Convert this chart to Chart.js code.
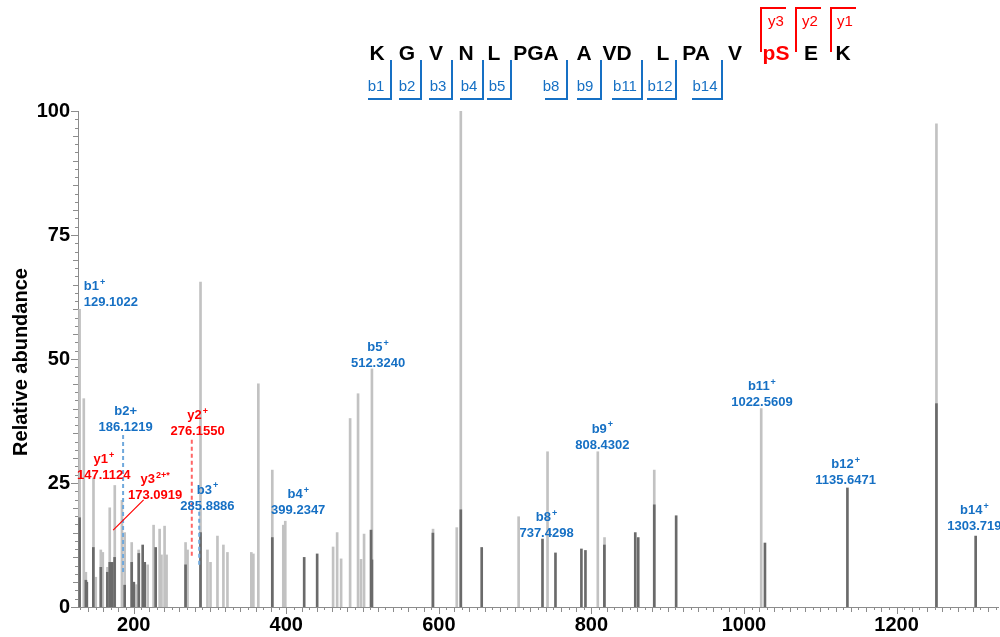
<!DOCTYPE html>
<html>
<head>
<meta charset="utf-8">
<script src="https://cdn.jsdelivr.net/npm/chart.js@4.4.0/dist/chart.umd.min.js"></script>
<style>
html, body { margin: 0; padding: 0; background: #fff; }
#wrap { width: 1000px; height: 637px; }
</style>
</head>
<body>
<div id="wrap"><canvas id="spectrum" width="1000" height="637"></canvas></div>
<script>
// light trace (m/z, relative abundance)
const lightMz = [129.1, 134.6, 137.3, 147.3, 150.3, 156.9, 159.5, 165.6, 168.6, 175.2, 184.6, 188.2, 197.4, 200.4, 203.9, 206.5,
    214.6, 218.3, 226.1, 234.0, 236.4, 240.5, 243.1, 268.0, 270.6, 287.6, 296.7, 300.7, 309.8, 317.6, 322.9, 354.2, 356.9,
    363.4, 381.7, 396.1, 398.7, 461.4, 466.7, 471.9, 483.7, 494.1, 498.0, 502.0, 512.3, 592.4, 623.5, 628.8, 704.6, 742.5,
    808.4, 817.2, 882.4, 1022.6, 1252.3];
const lightAb = [60, 42, 7, 26, 6, 11.5, 11, 8, 20, 24.5, 21.5, 15, 13, 4, 4.5, 11.5,
    9, 8.5, 16.5, 15.7, 10.5, 16.3, 10.5, 13, 11.5, 65.5, 11.5, 9, 14.3, 12.5, 11, 11, 10.7,
    45, 27.6, 16.5, 17.3, 12.1, 15, 9.7, 38, 43, 9.6, 14.7, 48, 15.7, 16, 100, 18.2, 31.3,
    31.3, 14, 27.6, 40, 97.4];

// dark trace (m/z, relative abundance)
const darkMz = [129.1, 137.3, 138.6, 147.1, 156.9, 165.4, 168.6, 171.9, 175.0, 188.2, 197.4, 200.2, 206.7, 211.8, 214.4, 228.8,
    268.0, 287.6, 381.7, 423.5, 440.5, 511.1, 512.3, 592.2, 628.8, 656.2, 735.9, 752.9, 786.9, 792.2, 817.0, 857.5, 861.4,
    882.4, 911.1, 1027.5, 1135.6, 1252.3, 1303.7];
const darkAb = [18, 5.4, 5, 12, 8, 7, 9, 9, 10, 4.4, 9, 5, 10.8, 12.5, 9, 12,
    8.5, 15, 14, 10, 10.7, 15.5, 9.5, 14.9, 19.6, 12, 13.7, 10.9, 11.7, 11.4, 12.5, 15, 14,
    20.6, 18.4, 12.9, 24, 41, 14.3];

const yTicks = [0, 25, 50, 75, 100];
const xTicks = [200, 400, 600, 800, 1000, 1200];

// fragment labels: text lines, anchor (m/z, abundance), colour group
const fragLabels = [
    { lines: ["b1^+", "129.1022"], mz: 134.6, ab: 64.7, ion: "b", align: "left" },
    { lines: ["b2+", "186.1219"], mz: 189.5, ab: 39.5, ion: "b" },
    { lines: ["y1^+", "147.1124"], mz: 160.8, ab: 29.8, ion: "y" },
    { lines: ["y3^2+*", "173.0919"], mz: 228.0, ab: 25.8, ion: "y" },
    { lines: ["y2^+", "276.1550"], mz: 283.7, ab: 38.7, ion: "y" },
    { lines: ["b3^+", "285.8886"], mz: 296.7, ab: 23.6, ion: "b" },
    { lines: ["b4^+", "399.2347"], mz: 415.7, ab: 22.6, ion: "b" },
    { lines: ["b5^+", "512.3240"], mz: 520.3, ab: 52.4, ion: "b" },
    { lines: ["b8^+", "737.4298"], mz: 741.2, ab: 18.1, ion: "b" },
    { lines: ["b9^+", "808.4302"], mz: 814.4, ab: 35.9, ion: "b" },
    { lines: ["b11^+", "1022.5609"], mz: 1023.5, ab: 44.4, ion: "b" },
    { lines: ["b12^+", "1135.6471"], mz: 1133.3, ab: 28.8, ion: "b" },
    { lines: ["b14^+", "1303.719"], mz: 1302.0, ab: 19.4, ion: "b" }
];

// dashed guide lines: m/z, from/to abundance
const guides = [
    { mz: 186.12, from: 34.7, to: 6.9, ion: "b" },
    { mz: 276.16, from: 33.7, to: 10.1, ion: "y" },
    { mz: 285.89, from: 19.2, to: 8.5, ion: "b" }
];
// y3 leader line
const leader = { mz1: 213, ab1: 21.6, mz2: 173.09, ab2: 15.5 };

// peptide sequence
const residues = ["K", "G", "V", "N", "L", "PGA", "A", "VD", "L", "PA", "V", "pS", "E", "K"];
const residueX = [377, 407, 436, 466, 494, 536, 584, 617, 663, 696, 735, 776, 811, 843];
const bIons = ["b1", "b2", "b3", "b4", "b5", "b8", "b9", "b11", "b12", "b14"];
const bBar = [391, 421, 452, 483, 511, 567, 601, 642, 676, 722];
const bLeft = [368, 399, 429, 460, 487, 545, 577, 612, 647, 692];
const bText = [376, 407, 438, 469, 497, 551, 585, 625, 660, 705];
const yIons = ["y3", "y2", "y1"];
const yBar = [761, 796, 831];
const yText = [776, 810, 845];

const BLUE = "#1670c4";
const RED = "#ff0000";
const FONT = "'Liberation Sans', Arial, sans-serif";

function drawRich(ctx, str, x, y, size, color, align) {
    const parts = str.split("^");
    const base = parts[0];
    const sup = parts[1] || "";
    ctx.font = "bold " + size + "px " + FONT;
    const wb = ctx.measureText(base).width;
    ctx.font = "bold " + Math.round(size * 0.68) + "px " + FONT;
    const ws = sup ? ctx.measureText(sup).width + 1 : 0;
    let sx = align === "left" ? x : x - (wb + ws) / 2;
    ctx.fillStyle = color;
    ctx.textBaseline = "middle";
    ctx.textAlign = "left";
    ctx.font = "bold " + size + "px " + FONT;
    ctx.fillText(base, sx, y);
    if (sup) {
        ctx.font = "bold " + Math.round(size * 0.68) + "px " + FONT;
        ctx.fillText(sup, sx + wb + 1, y - 4);
    }
}

const decorations = {
    id: "decorations",
    afterDraw(chart) {
        const ctx = chart.ctx;
        const xs = chart.scales.x;
        const ys = chart.scales.y;
        const area = chart.chartArea;
        ctx.save();

        // minor ticks
        ctx.strokeStyle = "#8c8c8c";
        ctx.lineWidth = 1;
        ctx.beginPath();
        for (let m = 130; m <= 1330; m += 10) {
            const px = Math.round(xs.getPixelForValue(m)) + 0.5;
            const len = m % 200 === 0 ? 7 : (m % 20 === 0 ? 5 : 3);
            ctx.moveTo(px, area.bottom);
            ctx.lineTo(px, area.bottom + len);
        }
        for (let i = 0; i <= 60; i++) {
            const v = i * 25 / 15;
            const py = Math.round(ys.getPixelForValue(v)) + 0.5;
            const len = i % 15 === 0 ? 7 : (i % 3 === 0 ? 5 : 3);
            ctx.moveTo(area.left, py);
            ctx.lineTo(area.left - len, py);
        }
        ctx.stroke();

        // y axis title
        ctx.save();
        ctx.translate(21, 362);
        ctx.rotate(-Math.PI / 2);
        ctx.font = "bold 20px " + FONT;
        ctx.fillStyle = "#000";
        ctx.textAlign = "center";
        ctx.textBaseline = "middle";
        ctx.fillText("Relative abundance", 0, 0);
        ctx.restore();

        // dashed guides
        ctx.lineWidth = 2;
        ctx.setLineDash([4, 3]);
        guides.forEach(function (g) {
            ctx.strokeStyle = g.ion === "b" ? "#6fa8dc" : "#ff6666";
            const px = xs.getPixelForValue(g.mz);
            ctx.beginPath();
            ctx.moveTo(px, ys.getPixelForValue(g.from));
            ctx.lineTo(px, ys.getPixelForValue(g.to));
            ctx.stroke();
        });
        ctx.setLineDash([]);

        // leader for y3
        ctx.strokeStyle = RED;
        ctx.lineWidth = 1.2;
        ctx.beginPath();
        ctx.moveTo(xs.getPixelForValue(leader.mz1), ys.getPixelForValue(leader.ab1));
        ctx.lineTo(xs.getPixelForValue(leader.mz2), ys.getPixelForValue(leader.ab2));
        ctx.stroke();

        // fragment labels
        fragLabels.forEach(function (f) {
            const px = xs.getPixelForValue(f.mz);
            const py = ys.getPixelForValue(f.ab);
            const col = f.ion === "b" ? BLUE : RED;
            f.lines.forEach(function (t, i) {
                drawRich(ctx, t, px, py + i * 16, 13, col, f.align);
            });
        });

        // sequence
        ctx.textAlign = "center";
        ctx.textBaseline = "middle";
        residues.forEach(function (r, i) {
            ctx.font = "bold 21px " + FONT;
            ctx.fillStyle = r === "pS" ? RED : "#000";
            ctx.fillText(r, residueX[i], 54);
        });

        // b brackets
        ctx.strokeStyle = BLUE;
        ctx.lineWidth = 2;
        ctx.font = "15px " + FONT;
        ctx.fillStyle = BLUE;
        bIons.forEach(function (b, i) {
            ctx.beginPath();
            ctx.moveTo(bBar[i], 60);
            ctx.lineTo(bBar[i], 99);
            ctx.lineTo(bLeft[i], 99);
            ctx.stroke();
            ctx.fillText(b, bText[i], 87);
        });

        // y brackets
        ctx.strokeStyle = RED;
        ctx.fillStyle = RED;
        yIons.forEach(function (y, i) {
            ctx.beginPath();
            ctx.moveTo(yBar[i], 52);
            ctx.lineTo(yBar[i], 8);
            ctx.lineTo(yBar[i] + 25, 8);
            ctx.stroke();
            ctx.fillText(y, yText[i], 22);
        });

        ctx.restore();
    }
};

function toPoints(mz, ab) {
    return mz.map(function (m, i) { return { x: m, y: ab[i] }; });
}

const ctx = document.getElementById("spectrum");
const chart = new Chart(ctx, {
    type: "bar",
    data: {
        datasets: [{
            label: "dark",
            data: toPoints(darkMz, darkAb),
            backgroundColor: "#6a6a6a",
            barThickness: 2,
            grouped: false,
            order: 0
        }, {
            label: "light",
            data: toPoints(lightMz, lightAb),
            backgroundColor: "#c2c2c2",
            barThickness: 2,
            grouped: false,
            order: 1
        }]
    },
    options: {
        responsive: false,
        animation: false,
        layout: { padding: { top: 111, right: 2, left: 0, bottom: 0 } },
        plugins: { legend: { display: false }, tooltip: { enabled: false } },
        scales: {
            x: {
                type: "linear",
                min: 127,
                max: 1333,
                offset: false,
                grid: { display: false, drawTicks: false },
                border: { display: true, color: "#8c8c8c", width: 1 },
                afterBuildTicks: function (s) { s.ticks = xTicks.map(function (v) { return { value: v }; }); },
                ticks: {
                    autoSkip: false, maxRotation: 0, padding: 6, color: "#000",
                    font: { family: FONT, size: 20, weight: "bold" },
                    callback: function (v) { return String(v); }
                },
                afterFit: function (s) { s.height = 30; }
            },
            y: {
                min: 0,
                max: 100,
                grid: { display: false, drawTicks: false },
                border: { display: true, color: "#8c8c8c", width: 1 },
                afterBuildTicks: function (s) { s.ticks = yTicks.map(function (v) { return { value: v }; }); },
                ticks: {
                    padding: 8, color: "#000",
                    font: { family: FONT, size: 20, weight: "bold" },
                    callback: function (v) { return String(v); }
                },
                afterFit: function (s) { s.width = 78; }
            }
        }
    },
    plugins: [decorations]
});
</script>
</body>
</html>
